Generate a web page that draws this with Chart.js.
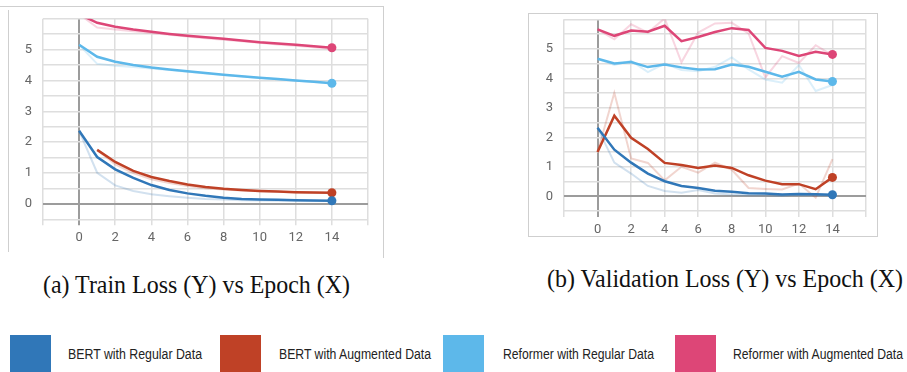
<!DOCTYPE html>
<html>
<head>
<meta charset="utf-8">
<script src="https://cdn.jsdelivr.net/npm/chart.js@4.4.1/dist/chart.umd.min.js"></script>
<style>
  body { margin: 0; width: 907px; height: 372px; background: #fff; position: relative; overflow: hidden; }
  canvas { position: absolute; }
  .rule { position: absolute; background: #cfcfcf; }
  .caption { position: absolute; font-family: 'Liberation Serif', 'Times New Roman', serif; font-size: 26px; line-height: 26px; color: #111; white-space: nowrap; transform-origin: 0 0; }
  .swatch { position: absolute; top: 335px; width: 41px; height: 40px; }
  .label { position: absolute; top: 347px; font-family: 'Liberation Sans', Arial, sans-serif; font-size: 14px; line-height: 14px; color: #222; white-space: nowrap; transform-origin: 0 0; }
</style>
</head>
<body>

<!-- frames round the two chart pictures -->
<div class="rule" style="left:0;top:6px;width:384px;height:1px"></div>
<div class="rule" style="left:8px;top:10px;width:1px;height:242px"></div>
<div class="rule" style="left:383px;top:6px;width:1px;height:252px"></div>
<div class="rule" style="left:528px;top:13px;width:350px;height:1px"></div>
<div class="rule" style="left:528px;top:236px;width:350px;height:1px"></div>
<div class="rule" style="left:528px;top:13px;width:1px;height:224px"></div>
<div class="rule" style="left:877px;top:13px;width:1px;height:224px"></div>

<canvas id="trainChart" width="384" height="250" style="left:0;top:0;width:384px;height:250px"></canvas>
<canvas id="valChart" width="387" height="240" style="left:520px;top:0;width:387px;height:240px"></canvas>

<div class="caption" id="capA" data-w="307" style="left:43px;top:272px">(a) Train Loss (Y) vs Epoch (X)</div>
<div class="caption" id="capB" data-w="356" style="left:547px;top:266px">(b) Validation Loss (Y) vs Epoch (X)</div>

<div id="legend"></div>

<script>
const epochs = [0, 1, 2, 3, 4, 5, 6, 7, 8, 9, 10, 11, 12, 13, 14];

const seriesNames = ['BERT with Regular Data', 'BERT with Augmented Data', 'Reformer with Regular Data', 'Reformer with Augmented Data'];
const seriesColors = ['#3077b8', '#bf4126', '#5db8ea', '#dd4677'];

// train loss, smoothed (dark) and raw (faint)
const trainBertReg = [2.37, 1.52, 1.12, 0.84, 0.61, 0.45, 0.34, 0.26, 0.20, 0.16, 0.14, 0.13, 0.12, 0.11, 0.10];
const trainBertRegRaw = [2.37, 1.01, 0.60, 0.42, 0.31, 0.25, 0.20, 0.16, 0.14, 0.12, 0.11, 0.10, 0.10, 0.09, 0.09];
const trainBertAug = [null, 1.75, 1.36, 1.07, 0.87, 0.74, 0.63, 0.55, 0.49, 0.45, 0.42, 0.40, 0.38, 0.37, 0.36];
const trainBertAugRaw = [null, 1.75, 1.28, 1.00, 0.80, 0.68, 0.58, 0.51, 0.47, 0.43, 0.41, 0.39, 0.37, 0.36, 0.35];
const trainRefReg = [5.16, 4.77, 4.61, 4.50, 4.42, 4.36, 4.30, 4.24, 4.19, 4.14, 4.09, 4.05, 4.00, 3.96, 3.91];
const trainRefRegRaw = [5.16, 4.54, 4.48, 4.44, 4.39, 4.34, 4.28, 4.23, 4.18, 4.13, 4.08, 4.04, 3.99, 3.95, 3.90];
const trainRefAug = [6.15, 5.87, 5.74, 5.65, 5.58, 5.51, 5.45, 5.40, 5.35, 5.30, 5.24, 5.20, 5.16, 5.11, 5.06];
const trainRefAugRaw = [6.15, 5.72, 5.65, 5.60, 5.54, 5.48, 5.43, 5.37, 5.32, 5.27, 5.22, 5.17, 5.13, 5.08, 5.03];

// validation loss
const valBertReg = [2.32, 1.58, 1.14, 0.77, 0.51, 0.35, 0.28, 0.19, 0.15, 0.10, 0.09, 0.06, 0.08, 0.07, 0.05];
const valBertRegRaw = [2.32, 1.14, 0.77, 0.35, 0.18, 0.12, 0.21, 0.09, 0.06, 0.03, 0.03, 0.01, 0.07, 0.03, 0.02];
const valBertAug = [1.50, 2.73, 1.98, 1.60, 1.13, 1.06, 0.96, 1.04, 0.96, 0.71, 0.53, 0.41, 0.41, 0.24, 0.64];
const valBertAugRaw = [1.50, 3.51, 1.28, 1.13, 0.54, 1.00, 0.80, 1.14, 0.90, 0.28, 0.25, 0.23, 0.43, -0.05, 1.26];
const valRefReg = [4.66, 4.50, 4.55, 4.38, 4.47, 4.37, 4.30, 4.31, 4.47, 4.39, 4.22, 4.05, 4.22, 3.96, 3.89];
const valRefRegRaw = [4.66, 4.45, 4.59, 4.21, 4.50, 4.28, 4.24, 4.39, 4.71, 4.30, 3.96, 3.85, 4.45, 3.57, 3.77];
const valRefAug = [5.66, 5.44, 5.62, 5.58, 5.78, 5.26, 5.40, 5.57, 5.70, 5.64, 5.03, 4.93, 4.76, 4.90, 4.81];
const valRefAugRaw = [5.66, 5.32, 5.83, 5.55, 6.03, 4.54, 5.55, 5.86, 5.88, 5.52, 4.03, 4.75, 4.52, 5.12, 4.78];

const toPoints = (values) => epochs
    .map((e, i) => ({ x: e, y: values[i] }))
    .filter(p => p.y !== null);

const fade = (hex, a) => {
    const n = parseInt(hex.slice(1), 16);
    return `rgba(${(n >> 16) & 255},${(n >> 8) & 255},${n & 255},${a})`;
};

const isZero = (ctx) => ctx.tick && ctx.tick.value === 0;
const tickFont = { family: 'Roboto', size: 13 };

function buildChart(id, smooth, raw, yWidth, padding) {
    const datasets = [];
    smooth.forEach((values, i) => {
        datasets.push({
            label: seriesNames[i],
            data: toPoints(values),
            borderColor: seriesColors[i],
            backgroundColor: seriesColors[i],
            borderWidth: 2.5,
            pointRadius: (ctx) => ctx.dataIndex === ctx.dataset.data.length - 1 ? 4.5 : 0,
            pointBorderWidth: 0,
            tension: 0,
            order: 0
        });
    });
    raw.forEach((values, i) => {
        datasets.push({
            label: seriesNames[i] + ' (raw)',
            data: toPoints(values),
            borderColor: fade(seriesColors[i], 0.22),
            borderWidth: 2,
            pointRadius: 0,
            tension: 0,
            order: 1
        });
    });

    return new Chart(document.getElementById(id), {
        type: 'line',
        data: { datasets },
        options: {
            responsive: false,
            animation: false,
            layout: { padding },
            plugins: { legend: { display: false }, tooltip: { enabled: false } },
            scales: {
                x: {
                    type: 'linear',
                    min: -2,
                    max: 16,
                    afterFit: (s) => { s.height = 24; },
                    border: { display: false },
                    grid: {
                        color: (c) => isZero(c) ? '#9c9c9c' : '#dedede',
                        lineWidth: (c) => isZero(c) ? 2 : 1.5,
                        tickLength: 6
                    },
                    ticks: {
                        stepSize: 2,
                        padding: 5,
                        autoSkip: false,
                        maxRotation: 0,
                        color: '#666',
                        font: tickFont,
                        callback: (v) => (v >= 0 && v <= 14) ? v : ''
                    }
                },
                y: {
                    min: -0.5,
                    max: 6,
                    afterFit: (s) => { s.width = yWidth; },
                    border: { display: false },
                    grid: {
                        color: (c) => isZero(c) ? '#9c9c9c' : '#dedede',
                        lineWidth: (c) => isZero(c) ? 2 : 1.5,
                        drawTicks: false
                    },
                    ticks: {
                        stepSize: 0.5,
                        padding: 11,
                        autoSkip: false,
                        color: '#666',
                        font: tickFont,
                        callback: (v) => (Number.isInteger(v) && v < 6) ? v : ''
                    }
                }
            }
        }
    });
}

buildChart('trainChart',
    [trainBertReg, trainBertAug, trainRefReg, trainRefAug],
    [trainBertRegRaw, trainBertAugRaw, trainRefRegRaw, trainRefAugRaw],
    43, { left: 0, right: 16, top: 12.5, bottom: 6.7 });

buildChart('valChart',
    [valBertReg, valBertAug, valRefReg, valRefAug],
    [valBertRegRaw, valBertAugRaw, valRefRegRaw, valRefAugRaw],
    44, { left: 0, right: 41, top: 19.3, bottom: 5 });

// shared legend under both charts
const swatchLeft = [10, 220, 443, 675];
const labelLeft = [68, 279, 503, 733];
const labelWidth = [134, 152, 151, 170];
const legend = document.getElementById('legend');
seriesNames.forEach((name, i) => {
    const sw = document.createElement('div');
    sw.className = 'swatch';
    sw.style.left = swatchLeft[i] + 'px';
    sw.style.background = seriesColors[i];
    legend.appendChild(sw);

    const lb = document.createElement('div');
    lb.className = 'label';
    lb.style.left = labelLeft[i] + 'px';
    lb.dataset.w = labelWidth[i];
    lb.textContent = name;
    legend.appendChild(lb);
});

// the source figure is squeezed sideways; fit the texts to their measured widths
document.querySelectorAll('[data-w]').forEach(el => {
    const w = el.getBoundingClientRect().width;
    el.style.transform = `scaleX(${el.dataset.w / w})`;
});
</script>
</body>
</html>
